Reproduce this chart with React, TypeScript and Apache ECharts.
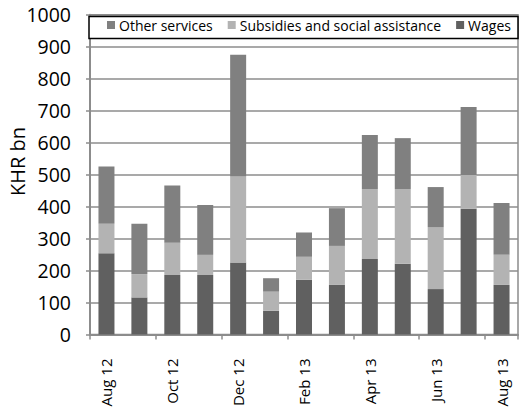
import React, { useEffect, useRef } from "react";
import * as echarts from "echarts";

const categories = ["Aug 12", "Sep 12", "Oct 12", "Nov 12", "Dec 12", "Jan 13", "Feb 13", "Mar 13", "Apr 13", "May 13", "Jun 13", "Jul 13", "Aug 13"];
const wages = [254, 116, 186, 186, 225, 74, 171, 155, 236, 221, 142, 393, 155];
const subsidies = [92, 73, 101, 63, 269, 60, 72, 122, 219, 234, 194, 106, 94];
const otherServices = [179, 157, 179, 156, 381, 42, 76, 118, 169, 159, 125, 212, 162];
const yTicks = [0, 100, 200, 300, 400, 500, 600, 700, 800, 900, 1000];
const yTitle = "KHR bn";

const FONT = "'Open Sans', sans-serif";

export default function App() {
  const ref = useRef<HTMLDivElement>(null);
  useEffect(() => {
    document.body.style.margin = "0";
    const chart = echarts.init(ref.current!, null, { renderer: "svg" });
    chart.setOption({
      animation: false,
      backgroundColor: "#ffffff",
      textStyle: { fontFamily: FONT },
      grid: {
        left: 90,
        right: 1,
        top: 14.7,
        bottom: 76.5,
        outerBoundsMode: "none",
        containLabel: false,
        show: true,
        borderColor: "#8c8c8c",
        borderWidth: 1.5,
        backgroundColor: "transparent",
      },
      graphic: [
        {
          type: "rect",
          z: 3,
          shape: { x: 89, y: 16.5, width: 429, height: 22 },
          style: { fill: "#ffffff", stroke: "#000000", lineWidth: 1.5 },
        },
        {
          type: "text",
          z: 10,
          x: 17,
          y: 161.5,
          rotation: Math.PI / 2,
          style: {
            text: yTitle,
            fontFamily: FONT,
            fontSize: 20,
            fill: "#000",
            align: "center",
            verticalAlign: "middle",
          },
        },
      ],
      legend: {
        z: 5,
        left: 107,
        top: 18,
        width: 420,
        padding: 0,
        itemWidth: 8,
        itemHeight: 8,
        itemGap: 15,
        icon: "rect",
        data: ["Other services", "Subsidies and social assistance", "Wages"],
        textStyle: { fontFamily: FONT, fontSize: 14, color: "#000", padding: [0, 0, 0, -1] },
      },
      xAxis: {
        type: "category",
        data: categories,
        axisLine: { lineStyle: { color: "#8c8c8c", width: 2 } },
        axisTick: { show: true, interval: 1, length: 5, lineStyle: { color: "#8c8c8c", width: 1.5 } },
        axisLabel: { interval: 1, rotate: 90, fontFamily: FONT, fontSize: 15, color: "#000", margin: 24 },
      },
      yAxis: {
        type: "value",
        min: yTicks[0],
        max: yTicks[yTicks.length - 1],
        interval: 100,
        axisLine: { show: true, lineStyle: { color: "#8c8c8c", width: 2 } },
        axisTick: { show: true, length: 4, lineStyle: { color: "#8c8c8c", width: 1.5 } },
        splitLine: { lineStyle: { color: "#8c8c8c", width: 1.5 } },
        axisLabel: { fontFamily: FONT, fontSize: 19.5, color: "#000", margin: 19, formatter: (v: number) => String(v) },
      },
      series: [
        { name: "Wages", type: "bar", stack: "t", data: wages, barWidth: 16, itemStyle: { color: "#606060" } },
        { name: "Subsidies and social assistance", type: "bar", stack: "t", data: subsidies, barWidth: 16, itemStyle: { color: "#b3b3b3" } },
        { name: "Other services", type: "bar", stack: "t", data: otherServices, barWidth: 16, itemStyle: { color: "#808080" } },
      ],
    });
    return () => chart.dispose();
  }, []);
  return <div ref={ref} style={{ position: "fixed", left: 0, top: 0, width: 519, height: 411 }} />;
}
